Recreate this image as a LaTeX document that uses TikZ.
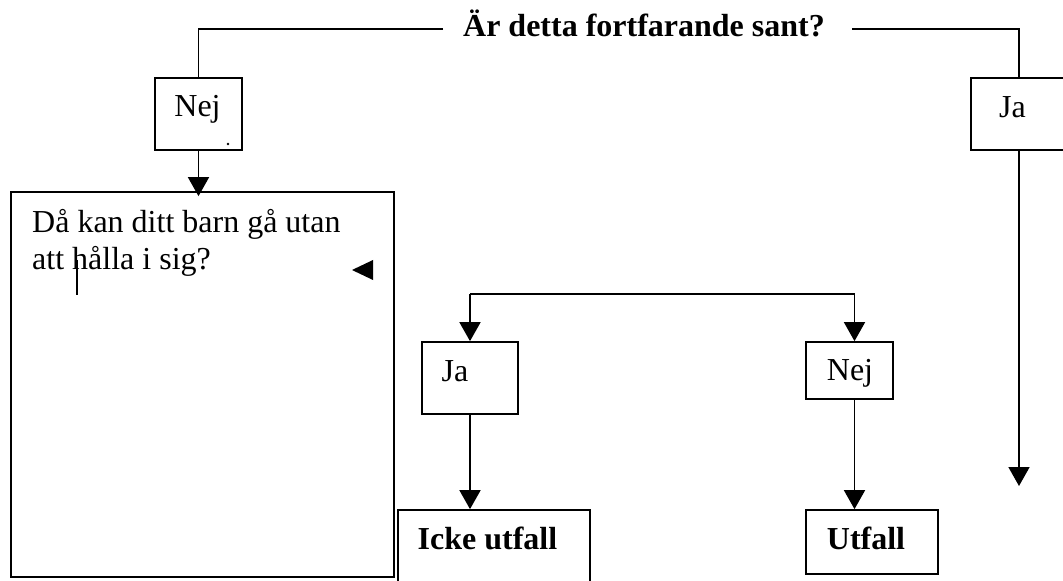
\documentclass[tikz,border=0pt]{standalone}
\usepackage{fontspec}
\setmainfont{Liberation Serif}
\usetikzlibrary{arrows.meta}
\tikzset{
  box/.style={draw, line width=1.7bp, inner sep=0pt},
  txt/.style={inner sep=0pt, anchor=base, font=\fontsize{32bp}{37bp}\selectfont},
  btxt/.style={txt, font=\fontsize{32bp}{37bp}\selectfont\bfseries},
  conn/.style={line width=1.7bp},
  arr/.style={conn, -{Triangle[width=21bp,length=19bp]}}
}
\begin{document}
\begin{tikzpicture}[x=1bp,y=-1bp]
\clip (0,0) rectangle (1063,581);
\fill[white] (0,0) rectangle (1063,581);
% boxes
\node[box, minimum width=87bp, minimum height=72bp] (nej1) at (198.5,114) {};
\node[box, minimum width=96bp, minimum height=72bp] (ja1) at (1019,114) {};
\node[box, minimum width=383bp, minimum height=385bp] (big) at (202.5,384.5) {};
\node[box, minimum width=96bp, minimum height=72bp] (jaM) at (470,378) {};
\node[box, minimum width=87bp, minimum height=57bp] (nejM) at (849.5,370.5) {};
\node[box, minimum width=192bp, minimum height=100bp] (icke) at (494,560) {};
\node[box, minimum width=132bp, minimum height=64bp] (utf) at (872,542) {};
% texts
\node[btxt] (title) at (644,37) {Är detta fortfarande sant?};
\node[txt] (nej1t) at (197.5,117) {Nej};
\node[txt] (ja1t) at (1012.5,118) {Ja};
\node[txt, anchor=base west] (q1) at (32,233) {Då kan ditt barn gå utan};
\node[txt, anchor=base west] (q2) at (32,270) {att hålla i sig?};
\node[txt] (jaMt) at (455,381) {Ja};
\node[txt] (nejMt) at (850,380) {Nej};
\node[btxt] (icket) at (487.5,549) {Icke utfall};
\node[btxt] (utft) at (866,549) {Utfall};
% connectors
\coordinate (tl) at (443,29);
\coordinate (tr) at (852,29);
\draw[conn] (tl) -| (nej1.north);
\draw[conn] (tr) -| (ja1.north);
\draw[arr, shorten >=-5bp] (nej1.south) -- (nej1.south |- big.north);
\coordinate (jaend) at (1019,486);
\draw[arr] (ja1.south) -- (jaend);
\coordinate (bl) at (470,294);
\coordinate (br) at (854.5,294);
\draw[conn] (bl) -- (br);
\draw[arr] (bl) -- (jaM.north);
\draw[arr] (br) -- (br |- nejM.north);
\draw[arr] (jaM.south) -- (jaM.south |- icke.north);
\draw[arr] (br |- nejM.south) -- (br |- utf.north);
% small marks
\draw[line width=1.2bp] (77,260) -- (77,295);
\fill (352,270) -- (373,260) -- (373,280) -- cycle;
\fill (228,144) circle (1.3bp);
\end{tikzpicture}
\end{document}
